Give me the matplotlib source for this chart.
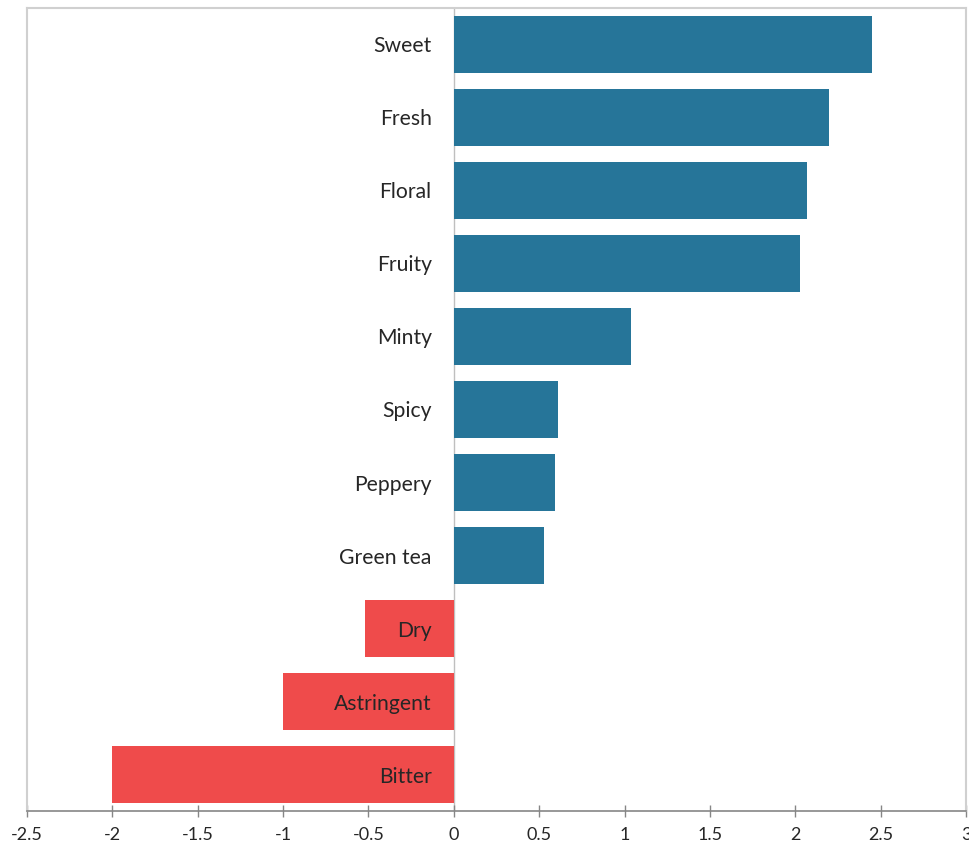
import matplotlib.pyplot as plt
import numpy as np

categories = ["Sweet", "Fresh", "Floral", "Fruity", "Minty", "Spicy",
              "Peppery", "Green tea", "Dry", "Astringent", "Bitter"]
values = [2.45, 2.20, 2.07, 2.03, 1.04, 0.61, 0.59, 0.53, -0.52, -1.00, -2.00]
xticks = [-2.5, -2, -1.5, -1, -0.5, 0, 0.5, 1, 1.5, 2, 2.5, 3]
xtick_labels = ["-2.5", "-2", "-1.5", "-1", "-0.5", "0", "0.5", "1", "1.5", "2", "2.5", "3"]

plt.rcParams['font.family'] = ['Lato', 'DejaVu Sans']

fig = plt.figure(figsize=(9.69, 8.48), dpi=100)
ax = fig.add_axes([0.0279, 0.0436, 0.969, 0.947])

y = np.arange(len(categories))
colors = ["#267599" if v >= 0 else "#EF4B4B" for v in values]
ax.barh(y, values, height=0.77, color=colors, zorder=2)

# labels sit just left of the zero line
for yi, name in zip(y, categories):
    ax.text(-0.13, yi, name, ha='right', va='center_baseline', fontsize=15.2,
            color="#262626", zorder=3)

ax.axvline(0, color="#BFBFBF", linewidth=1, zorder=1)

ax.set_xlim(-2.5, 3)
ax.set_ylim(10.5, -0.5)
ax.set_yticks([])
ax.set_xticks(xticks)
ax.set_xticklabels(xtick_labels, fontsize=13, color="#262626")
ax.tick_params(axis='x', direction='inout', length=9, width=1, color="#868686", pad=7)

for side in ['left', 'top', 'right']:
    ax.spines[side].set_color("#D0D0D0")
    ax.spines[side].set_linewidth(1.5)
ax.spines['bottom'].set_color("#868686")
ax.spines['bottom'].set_linewidth(1.2)

plt.savefig("out.png", dpi=100)
